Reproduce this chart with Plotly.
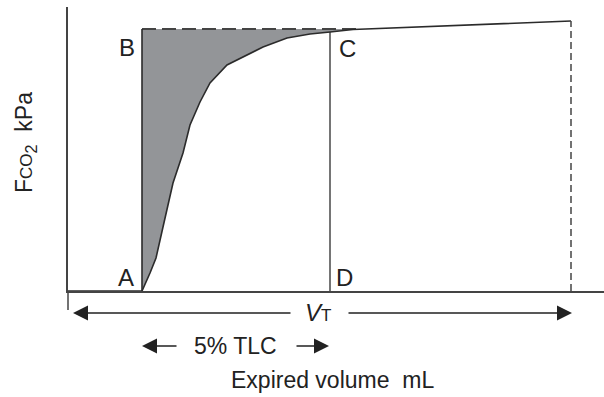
import plotly.graph_objects as go

# ---- data (schematic units: volume in mL, FCO2 in arbitrary units) ----
curve_x = [0, 74, 82, 88, 95, 105, 115, 122, 132, 142, 159, 175, 195, 219, 242, 262, 285, 503]
curve_y = [0, 0, 18, 33, 64, 108, 138, 166, 189, 208, 226, 234, 244, 253, 257, 259, 261.5, 270]
point_A_x = 74          # start of expiration of alveolar gas
point_C_x = 262         # 5% TLC mark
end_x = 503             # end of tidal volume
plateau_y = 262         # level B
dash_end_x = 290
labels = ["A", "B", "C", "D"]
label_x = [58, 59, 279, 276]
label_y = [14, 244, 243, 14]

FONT = "Liberation Sans Narrow, Arial Narrow, Liberation Sans, Arial, sans-serif"
DARK = "#2b2b2b"
FS = 23

fig = go.Figure()

# shaded area between B-vertical, plateau and curve
poly_x = [point_A_x, point_A_x, dash_end_x - 3]
poly_y = [0, plateau_y, plateau_y]
for xv, yv in reversed(list(zip(curve_x, curve_y))):
    if point_A_x <= xv <= 285:
        poly_x.append(xv)
        poly_y.append(yv)
fig.add_trace(go.Scatter(x=poly_x, y=poly_y, fill="toself", fillcolor="#939598",
                         mode="lines", line=dict(width=0), hoverinfo="skip"))

# dashed plateau line
fig.add_trace(go.Scatter(x=[point_A_x, dash_end_x], y=[plateau_y, plateau_y], mode="lines",
                         line=dict(color="#444444", width=2, dash="14px,6px"), hoverinfo="skip"))

# CO2 curve
fig.add_trace(go.Scatter(x=curve_x, y=curve_y, mode="lines",
                         line=dict(color=DARK, width=1.6), hoverinfo="skip"))

# vertical lines
fig.add_trace(go.Scatter(x=[point_A_x, point_A_x], y=[0, plateau_y], mode="lines",
                         line=dict(color=DARK, width=1.6), hoverinfo="skip"))
fig.add_trace(go.Scatter(x=[point_C_x, point_C_x], y=[0, curve_y[15]], mode="lines",
                         line=dict(color=DARK, width=1.3), hoverinfo="skip"))
fig.add_trace(go.Scatter(x=[end_x, end_x], y=[0, curve_y[-1]], mode="lines",
                         line=dict(color="#444444", width=1.5, dash="7px,4px"), hoverinfo="skip"))

ann = []
for t, xv, yv in zip(labels, label_x, label_y):
    ann.append(dict(x=xv, y=yv, xref="x", yref="y", text=t, showarrow=False,
                    xanchor="center", yanchor="middle",
                    font=dict(size=FS + 1, color="#222222", family=FONT)))

def arrow(tip, tail, ypaper):
    return dict(x=tip, y=ypaper, xref="x", yref="paper", ax=tail, ay=0, axref="x", ayref="pixel",
                text="", showarrow=True, arrowhead=2, arrowsize=2, arrowwidth=1.5,
                arrowcolor="#222222")

y_vt = -(313 - 291) / 284
y_tlc = -(346 - 291) / 284
y_lab = -(380 - 291) / 284

ann += [arrow(5, 224, y_vt), arrow(504, 279, y_vt),
        arrow(point_A_x, 110, y_tlc), arrow(point_C_x - 1, 227, y_tlc)]
ann.append(dict(x=250, y=y_vt, xref="x", yref="paper", showarrow=False,
                xanchor="center", yanchor="middle",
                text="<i>V</i><span style='font-size:17px'>T</span>",
                font=dict(size=FS + 1, color="#222222", family=FONT)))
ann.append(dict(x=167.5, y=y_tlc, xref="x", yref="paper", showarrow=False, text="5% TLC",
                xanchor="center", yanchor="middle",
                font=dict(size=FS, color="#222222", family=FONT)))
ann.append(dict(x=264, y=y_lab, xref="x", yref="paper", showarrow=False,
                xanchor="center", yanchor="middle",
                text="Expired volume\u00a0 mL",
                font=dict(size=FS, color="#222222", family=FONT)))
ann.append(dict(x=-(68 - 25) / 536, y=(291 - 143) / 284, xref="paper", yref="paper",
                showarrow=False, textangle=-90, xanchor="center", yanchor="middle",
                text="F<span style='font-size:17px'>CO</span><sub>2</sub>\u00a0 kPa",
                font=dict(size=FS, color="#222222", family=FONT)))

fig.update_layout(
    width=604, height=397,
    margin=dict(l=68, r=0, t=7, b=106),
    paper_bgcolor="white", plot_bgcolor="white",
    showlegend=False,
    annotations=ann,
    shapes=[dict(type="line", xref="paper", yref="paper", x0=0, x1=0, y0=0, y1=-(310 - 291) / 284,
                 line=dict(color="#444444", width=1.5))],
    xaxis=dict(range=[0, 536], showline=True, linecolor="#444444", linewidth=1.5,
               showgrid=False, zeroline=False, showticklabels=False, ticks="", fixedrange=True),
    yaxis=dict(range=[0, 284], showline=True, linecolor="#444444", linewidth=1.5,
               showgrid=False, zeroline=False, showticklabels=False, ticks="", fixedrange=True),
)

fig.write_html("out.html")
